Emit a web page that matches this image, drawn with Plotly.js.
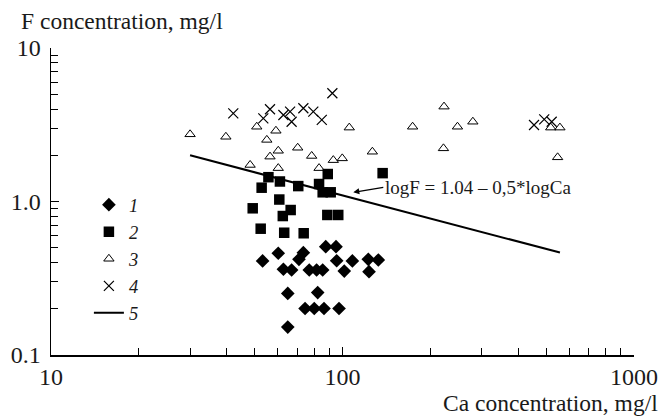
<!DOCTYPE html>
<html>
<head>
<meta charset="utf-8">
<script src="https://cdn.plot.ly/plotly-3.0.1.min.js"></script>
<style>html,body{margin:0;padding:0;background:#fff;}#chart{width:663px;height:416px;}</style>
</head>
<body>
<div id="chart"></div>
<script>
// Series 1 (diamonds)
const ca1 = [87.6, 95.0, 60.2, 73.4, 53.2, 70.9, 62.7, 66.9, 76.9, 81.5, 85.5, 95.5, 108.1, 122.6, 132.7, 101.4, 123.3, 64.9, 82.2, 74.4, 80.0, 86.4, 97.3, 64.9];
const f1  = [0.508, 0.508, 0.460, 0.464, 0.410, 0.420, 0.362, 0.358, 0.358, 0.358, 0.358, 0.411, 0.410, 0.420, 0.416, 0.352, 0.349, 0.252, 0.255, 0.201, 0.201, 0.201, 0.201, 0.152];
// Series 2 (squares)
const ca2 = [55.7, 61.0, 52.8, 70.5, 89.0, 83.1, 85.5, 91.1, 137.3, 60.7, 49.2, 66.4, 62.4, 88.7, 96.7, 52.4, 63.1, 73.6];
const f2  = [1.44, 1.35, 1.23, 1.26, 1.51, 1.30, 1.148, 1.148, 1.53, 1.03, 0.903, 0.880, 0.804, 0.817, 0.817, 0.665, 0.626, 0.621];
// Series 3 (open triangles)
const ca3 = [30.0, 39.8, 50.8, 59.1, 55.0, 60.2, 70.2, 78.4, 93.0, 99.8, 56.4, 48.2, 60.2, 83.1, 105.5, 126.6, 223, 174, 248, 280, 222, 518, 557, 547];
const f3  = [2.74, 2.64, 3.07, 2.89, 2.52, 2.14, 2.24, 1.98, 1.86, 1.91, 1.96, 1.73, 1.65, 1.65, 3.03, 2.11, 4.15, 3.07, 3.07, 3.31, 2.22, 3.03, 3.03, 1.94];
// Series 4 (crosses)
const ca4 = [42.2, 92.3, 56.4, 53.5, 62.7, 66.1, 66.9, 73.4, 79.4, 84.9, 454, 492, 522];
const f4  = [3.75, 5.07, 3.99, 3.48, 3.66, 3.85, 3.31, 4.05, 3.85, 3.40, 3.15, 3.43, 3.31];
// Series 5 (regression line logF = 1.04 - 0.5*logCa), end points
const ca5 = [30, 557];
const f5  = [2.0, 0.465];

const seriesNames = ['1', '2', '3', '4', '5'];
const xTickVals = [10, 100, 1000];
const xTickText = ['10', '100', '1000'];
const yTickVals = [0.1, 1, 10];
const yTickText = ['0.1', '1.0', '10'];
const xMinor = [20, 30, 40, 50, 60, 70, 80, 90, 200, 300, 400, 500, 600, 700, 800, 900];
const yMinor = [0.2, 0.3, 0.4, 0.5, 0.6, 0.7, 0.8, 0.9, 2, 3, 4, 5, 6, 7, 8, 9];
const eqText = 'logF = 1.04 – 0,5*logCa';
const eqTip = {x: 108.9, y: 1.148};

const FONT = '"Liberation Serif", "Times New Roman", Times, serif';
const INK = '#1a1a1a';

const traces = [
  {x: ca1, y: f1, name: '<i>' + seriesNames[0] + '</i>', mode: 'markers', type: 'scatter',
   marker: {symbol: 'diamond', size: 10.5, color: '#000'}},
  {x: ca2, y: f2, name: '<i>' + seriesNames[1] + '</i>', mode: 'markers', type: 'scatter',
   marker: {symbol: 'square', size: 10.5, color: '#000'}},
  {x: ca3, y: f3, name: '<i>' + seriesNames[2] + '</i>', mode: 'markers', type: 'scatter',
   marker: {symbol: 'triangle-up-open', size: 9, color: '#000', line: {width: 1, color: '#000'}}},
  {x: ca4, y: f4, name: '<i>' + seriesNames[3] + '</i>', mode: 'markers', type: 'scatter',
   marker: {symbol: 'x-thin-open', size: 10, color: '#000', line: {width: 1.2, color: '#000'}}},
  {x: ca5, y: f5, name: '<i>' + seriesNames[4] + '</i>', mode: 'lines', type: 'scatter',
   line: {color: '#000', width: 2}}
];

const axisCommon = {
  type: 'log', showgrid: false, zeroline: false,
  showline: true, linecolor: '#000', linewidth: 1.5,
  ticks: 'inside', ticklen: 8, tickwidth: 1, tickcolor: '#000',
  tickmode: 'array',
  tickfont: {family: FONT, size: 24, color: INK}
};

const layout = {
  width: 663, height: 416,
  margin: {l: 51, r: 29, t: 48, b: 61},
  paper_bgcolor: '#fff', plot_bgcolor: '#fff',
  showlegend: true,
  font: {family: FONT, color: INK},
  title: {
    text: 'F concentration, mg/l',
    font: {family: FONT, size: 23.5, color: INK},
    xref: 'container', x: 21 / 663, xanchor: 'left',
    yref: 'container', y: 1 - 21 / 416, yanchor: 'middle'
  },
  xaxis: Object.assign({}, axisCommon, {
    range: [1, 3], tickvals: xTickVals, ticktext: xTickText,
    minor: {tickmode: 'array', tickvals: xMinor, ticks: 'inside', ticklen: 7, tickwidth: 1, tickcolor: '#000', showgrid: false}
  }),
  yaxis: Object.assign({}, axisCommon, {
    range: [-1, 1], tickvals: yTickVals, ticktext: yTickText,
    ticklabelstandoff: 4,
    minor: {tickmode: 'array', tickvals: yMinor, ticks: 'inside', ticklen: 7, tickwidth: 1, tickcolor: '#000', showgrid: false}
  }),
  legend: {
    x: 0.065, y: 0.55, xanchor: 'left', yanchor: 'top',
    bgcolor: 'rgba(0,0,0,0)', borderwidth: 0,
    font: {family: FONT, size: 18.5, color: INK},
    itemwidth: 30, tracegroupgap: 0
  },
  annotations: [
    {x: Math.log10(eqTip.x), y: Math.log10(eqTip.y), xref: 'x', yref: 'y',
     text: eqText, showarrow: true, arrowhead: 2, arrowsize: 1, arrowwidth: 1.2, arrowcolor: '#000',
     ax: 30, ay: -5, xanchor: 'left', yanchor: 'middle',
     font: {family: FONT, size: 19, color: INK}},
    {x: (660 - 51) / 583, y: (355 - 403) / 307, xref: 'paper', yref: 'paper',
     text: 'Ca concentration, mg/l', showarrow: false, xanchor: 'right', yanchor: 'middle',
     font: {family: FONT, size: 23.5, color: INK}}
  ]
};

Plotly.newPlot('chart', traces, layout, {staticPlot: true, displayModeBar: false});
</script>
</body>
</html>
